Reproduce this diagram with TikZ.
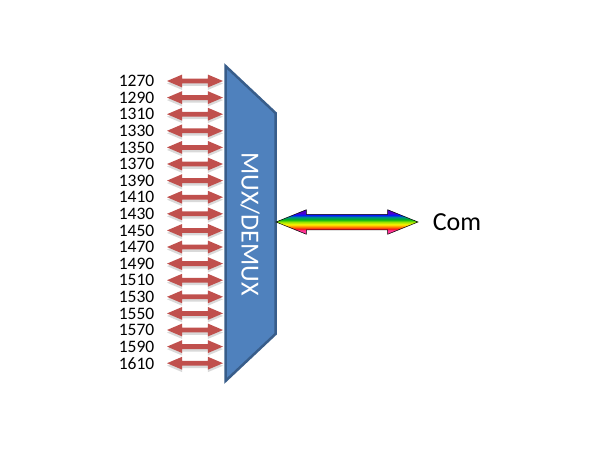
\documentclass[tikz,border=0pt]{standalone}
\usepackage{fontspec}
\setmainfont{Carlito}
\usetikzlibrary{positioning, shapes.arrows, shadows}
\definecolor{muxblue}{RGB}{79,129,189}
\definecolor{muxline}{RGB}{56,93,138}
\definecolor{chred}{RGB}{192,80,77}
\pgfdeclareverticalshading{rainbow}{100bp}{rgb(0bp)=(1,0.2,0.6); rgb(33bp)=(1,0.2,0.6); rgb(36bp)=(0.95,0.1,0.1); rgb(40bp)=(1,0.5,0); rgb(45bp)=(1,0.95,0); rgb(50bp)=(0.6,0.9,0); rgb(55bp)=(0,0.7,0.1); rgb(60bp)=(0,0.55,0.55); rgb(64bp)=(0,0.1,1); rgb(68bp)=(0.3,0,0.8); rgb(100bp)=(0.3,0,0.8)}

\begin{document}
\begin{tikzpicture}[x=1pt, y=-1pt, every node/.style={inner sep=0pt},
    chan/.style={double arrow, fill=chred, minimum height=56pt, inner ysep=2.2pt,
        double arrow head extend=4pt, double arrow tip angle=46,
        drop shadow={opacity=0.3, shadow xshift=0pt, shadow yshift=-2.5pt}},
    wave/.style={font=\fontsize{17.5}{18}\selectfont},
    big/.style={font=\fontsize{26}{28}\selectfont}]
    \useasboundingbox (0,0) rectangle (610,450);
    \foreach \w [count=\i from 0] in {1270,1290,...,1610}{
        \node[chan] (arr\w) at (195, 81+16.6*\i) {};
        \node[wave, left=12pt of arr\w] (lbl\w) {\w};
    }
    \draw[fill=muxblue, draw=muxline, line width=2.5pt] (225.5,66) -- (275.5,113) -- (275.5,334) -- (225.5,381) -- cycle;
    \node[big, rotate=-90, text=white] (mux) at (250,224) {MUX/DEMUX};
    \node[double arrow, draw=black, line width=0.5pt, shading=rainbow, minimum height=142pt, inner ysep=7.5pt,
        double arrow head extend=4.5pt, double arrow tip angle=44] (bus) at (347,222) {};
    \node[big, right=14pt of bus] (com) {Com};
\end{tikzpicture}
\end{document}
